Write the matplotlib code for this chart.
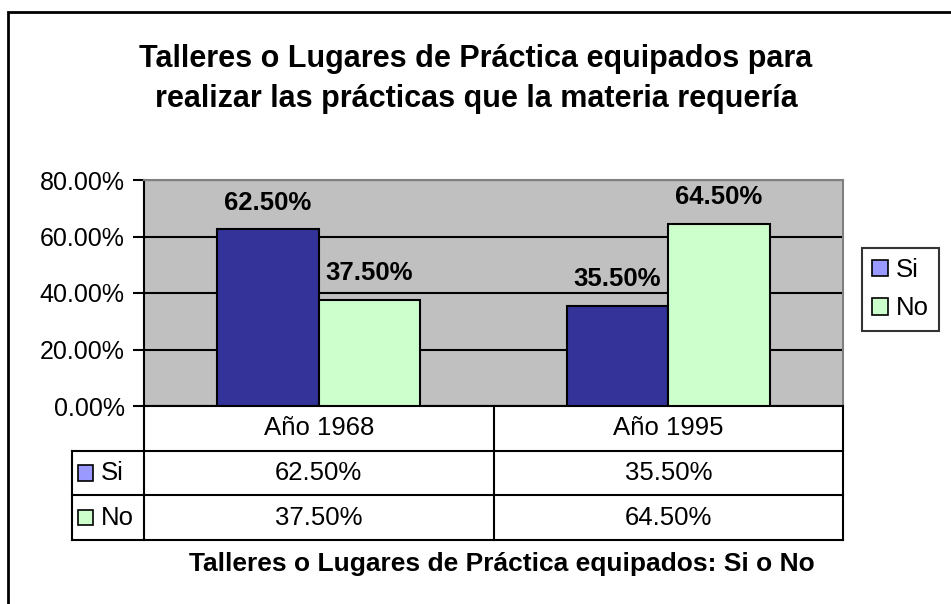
import numpy as np
import matplotlib.pyplot as plt
from matplotlib.patches import Patch, Rectangle

# ================= DATA =================

categories = ["Año 1968", "Año 1995"]
series_names = ["Si", "No"]
si_values = [62.5, 35.5]
no_values = [37.5, 64.5]
y_ticks = [0, 20, 40, 60, 80]

title = "Talleres o Lugares de Práctica equipados para\nrealizar las prácticas que la materia requería"
x_title = "Talleres o Lugares de Práctica equipados: Si o No"

bar_colors = ["#333399", "#CCFFCC"]
key_colors = ["#9999FF", "#CCFFCC"]

plt.rcParams["font.family"] = ["Liberation Sans", "DejaVu Sans"]

W, H = 951, 604


def fig_box(x0, y0, x1, y1):
    # pixel box (top-left origin) -> figure fraction
    return [x0 / W, 1 - y1 / H, (x1 - x0) / W, (y1 - y0) / H]


fig = plt.figure(figsize=(W / 100, H / 100), dpi=100)
fig.patch.set_facecolor("white")

# outer chart border
fig.add_artist(Rectangle((8 / W, -0.1), 1.2, 1 - 12 / H + 0.1,
                         transform=fig.transFigure, fill=False,
                         edgecolor="black", linewidth=2))

fig.text(476 / W, 1 - 79 / H, title, ha="center", va="center",
         fontsize=22, fontweight="bold", linespacing=1.45)

# ================= BARS =================

ax = fig.add_axes(fig_box(144, 180, 843, 406))
ax.set_facecolor("#C0C0C0")

x = np.arange(len(categories))
width = 0.29
series = [si_values, no_values]

for i, vals in enumerate(series):
    offset = (i - 0.5) * width
    bars = ax.bar(x + offset, vals, width, color=bar_colors[i],
                  edgecolor="black", linewidth=1.5, zorder=3)
    for b, v in zip(bars, vals):
        ax.text(b.get_x() + b.get_width() / 2, v + 9.5, f"{v:.2f}%",
                ha="center", va="center", fontsize=18.5, fontweight="bold",
                zorder=4)

ax.set_xlim(-0.5, 1.5)
ax.set_ylim(0, 80)
ax.set_yticks(y_ticks)
ax.set_yticklabels([f"{t:.2f}%" for t in y_ticks], fontsize=18)
ax.set_xticks([])
ax.yaxis.grid(True, color="black", linewidth=1.5, zorder=0)
ax.set_axisbelow(True)
ax.tick_params(axis="y", length=8, width=1.5, pad=6)

for side in ["top", "right"]:
    ax.spines[side].set_color("#808080")
    ax.spines[side].set_linewidth(1.5)
for side in ["left", "bottom"]:
    ax.spines[side].set_linewidth(1.5)

# ================= DATA TABLE =================

unit = (843 - 144) / 2
left_x = -0.5 - (144 - 72) / unit

tab = fig.add_axes(fig_box(72, 406, 843, 540))
tab.set_xlim(left_x, 1.5)
tab.set_ylim(3, 0)
tab.axis("off")

lw = 1.5
for xv in [-0.5, 0.5, 1.5]:
    tab.plot([xv, xv], [0, 3], color="black", lw=lw, clip_on=False)
tab.plot([left_x, left_x], [1, 3], color="black", lw=lw, clip_on=False)
for yv in [1, 2, 3]:
    tab.plot([left_x, 1.5], [yv, yv], color="black", lw=lw, clip_on=False)

for j, cat in enumerate(categories):
    tab.text(j, 0.5, cat, ha="center", va="center", fontsize=18.5)
    for i, vals in enumerate(series):
        tab.text(j, 1.5 + i, f"{vals[j]:.2f}%", ha="center", va="center",
                 fontsize=18.5)

for i, name in enumerate(series_names):
    tab.add_patch(Rectangle((left_x + 6 / unit, 1.5 + i - 0.17), 15 / unit,
                            0.34, facecolor=key_colors[i], edgecolor="black",
                            lw=1.2, clip_on=False))
    tab.text(left_x + 29 / unit, 1.5 + i, name, ha="left", va="center",
             fontsize=18.5)

fig.text(502 / W, 1 - 564 / H, x_title, ha="center", va="center",
         fontsize=19, fontweight="bold")

# ================= LEGEND =================

handles = [Patch(facecolor=c, edgecolor="black", linewidth=1.2)
           for c in key_colors]
leg = fig.legend(handles, series_names, loc="upper left",
                 bbox_to_anchor=(862 / W, 1 - 248 / H), fontsize=18.5,
                 frameon=True, fancybox=False, handlelength=0.6,
                 handleheight=0.6, handletextpad=0.3, borderpad=0.4,
                 labelspacing=0.55, borderaxespad=0)
leg.get_frame().set_edgecolor("black")
leg.get_frame().set_linewidth(1.5)

fig.savefig("out.png", dpi=100)
